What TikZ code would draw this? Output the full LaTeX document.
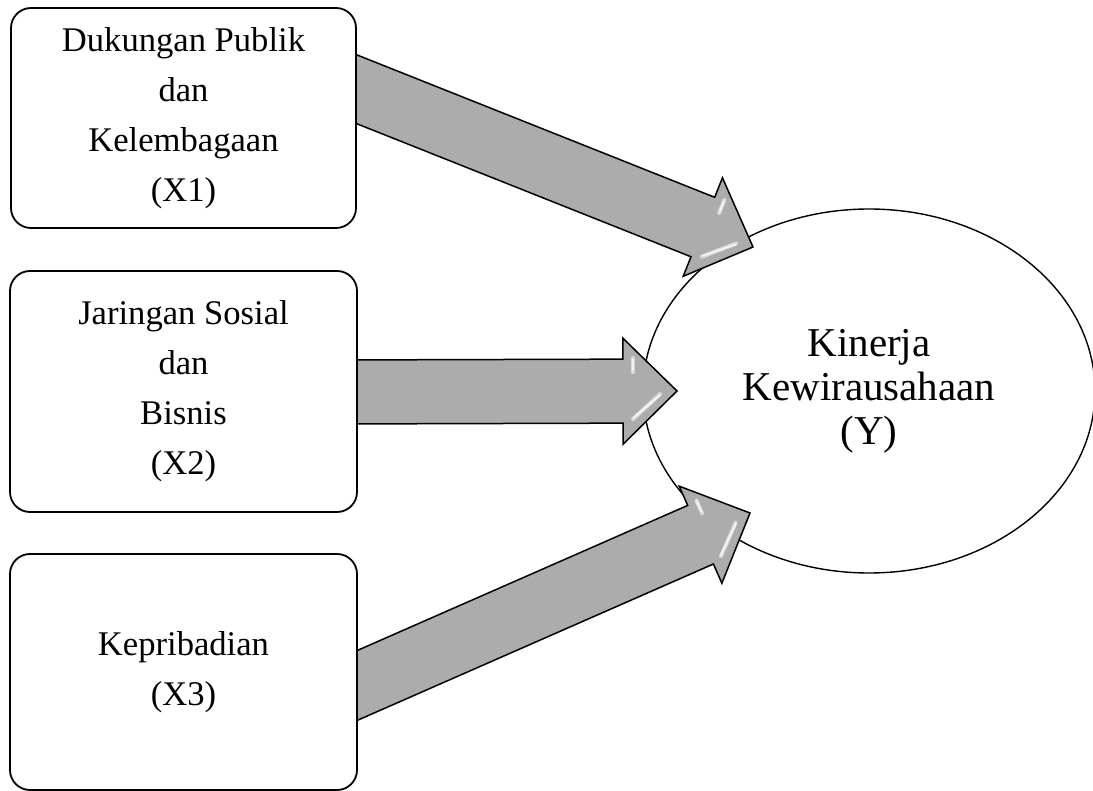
\documentclass[tikz,border=0pt]{standalone}
\usepackage{fontspec}
\setmainfont{Liberation Serif}
\usetikzlibrary{calc,shapes.geometric,backgrounds}
\pgfdeclarelayer{mid}
\pgfsetlayers{background,mid,main}
\definecolor{arrowgray}{RGB}{172,172,172}
\tikzset{
  box/.style={draw, line width=1.8pt, rounded corners=20pt, fill=white, inner sep=0pt,
    align=center, font=\fontsize{34.6}{50}\selectfont},
  target/.style={ellipse, draw, line width=1.4pt, fill=white, inner sep=0pt,
    minimum width=452pt, minimum height=364pt, align=center,
    font=\fontsize{41}{44}\selectfont},
  fatarrow/.style={fill=arrowgray, draw=black, line width=1.5pt, line join=miter},
  gloss/.style={draw=white, opacity=0.55, line width=4pt, line cap=round},
  glosscore/.style={draw=white, opacity=0.8, line width=1.5pt, line cap=round},
}
\newcommand\shaftarrow[2]{%
  \coordinate (#2h) at ($(#2)!54pt!(#1)$);
  \coordinate (#2a) at ($(#2h)!10pt!(#2)$);
  \coordinate (#2b) at ($(#2h)!37pt!(#2)$);
  \filldraw[fatarrow] ($(#1)!32pt!90:(#2)$) -- ($(#2h)!32pt!90:(#2)$)
    -- ($(#2h)!53pt!90:(#2)$) -- (#2) -- ($(#2h)!53pt!-90:(#2)$)
    -- ($(#2h)!32pt!-90:(#2)$) -- ($(#1)!32pt!-90:(#2)$) -- cycle;
  \draw[gloss] ($(#2a)!33pt!90:(#2)$) -- ($(#2a)!19pt!90:(#2)$);
  \draw[gloss] ($(#2a)!28pt!-90:(#2)$) -- ($(#2b)!3pt!-90:(#2)$);
  \draw[glosscore] ($(#2a)!32pt!90:(#2)$) -- ($(#2a)!21pt!90:(#2)$);
  \draw[glosscore] ($(#2a)!27pt!-90:(#2)$) -- ($(#2b)!4pt!-90:(#2)$);
}
\begin{document}
\begin{tikzpicture}[x=1pt, y=-1pt]
  \useasboundingbox (0,0) rectangle (1093,791);
  % source boxes
  \node[box, minimum width=345pt, minimum height=220pt] (x1) at (183.5,118)
    {Dukungan Publik\\dan\\Kelembagaan\\(X1)};
  \node[box, minimum width=347pt, minimum height=241pt] (x2) at (183.5,391.5)
    {Jaringan Sosial\\dan\\Bisnis\\(X2)};
  \node[box, minimum width=347pt, minimum height=236pt] (x3) at (183.5,672)
    {Kepribadian\\(X3)};
  % target ellipse
  \begin{pgfonlayer}{background}
    \node[target] (y) at (869,391) {Kinerja\\Kewirausahaan\\(Y)};
  \end{pgfonlayer}
  % arrow end points
  \coordinate (s1) at ($(x1.east)+(-26,-39)$);
  \coordinate (t1) at ($(y.center)+(-116,-144)$);
  \coordinate (s2) at ($(x2.east)+(-27,0.5)$);
  \coordinate (t2) at ($(y.center)+(-192,0)$);
  \coordinate (s3) at ($(x3.east)+(-27,25)$);
  \coordinate (t3) at ($(y.center)+(-119,122)$);
  \begin{pgfonlayer}{mid}
    \shaftarrow{s1}{t1}
    \shaftarrow{s2}{t2}
    \shaftarrow{s3}{t3}
  \end{pgfonlayer}
\end{tikzpicture}
\end{document}
